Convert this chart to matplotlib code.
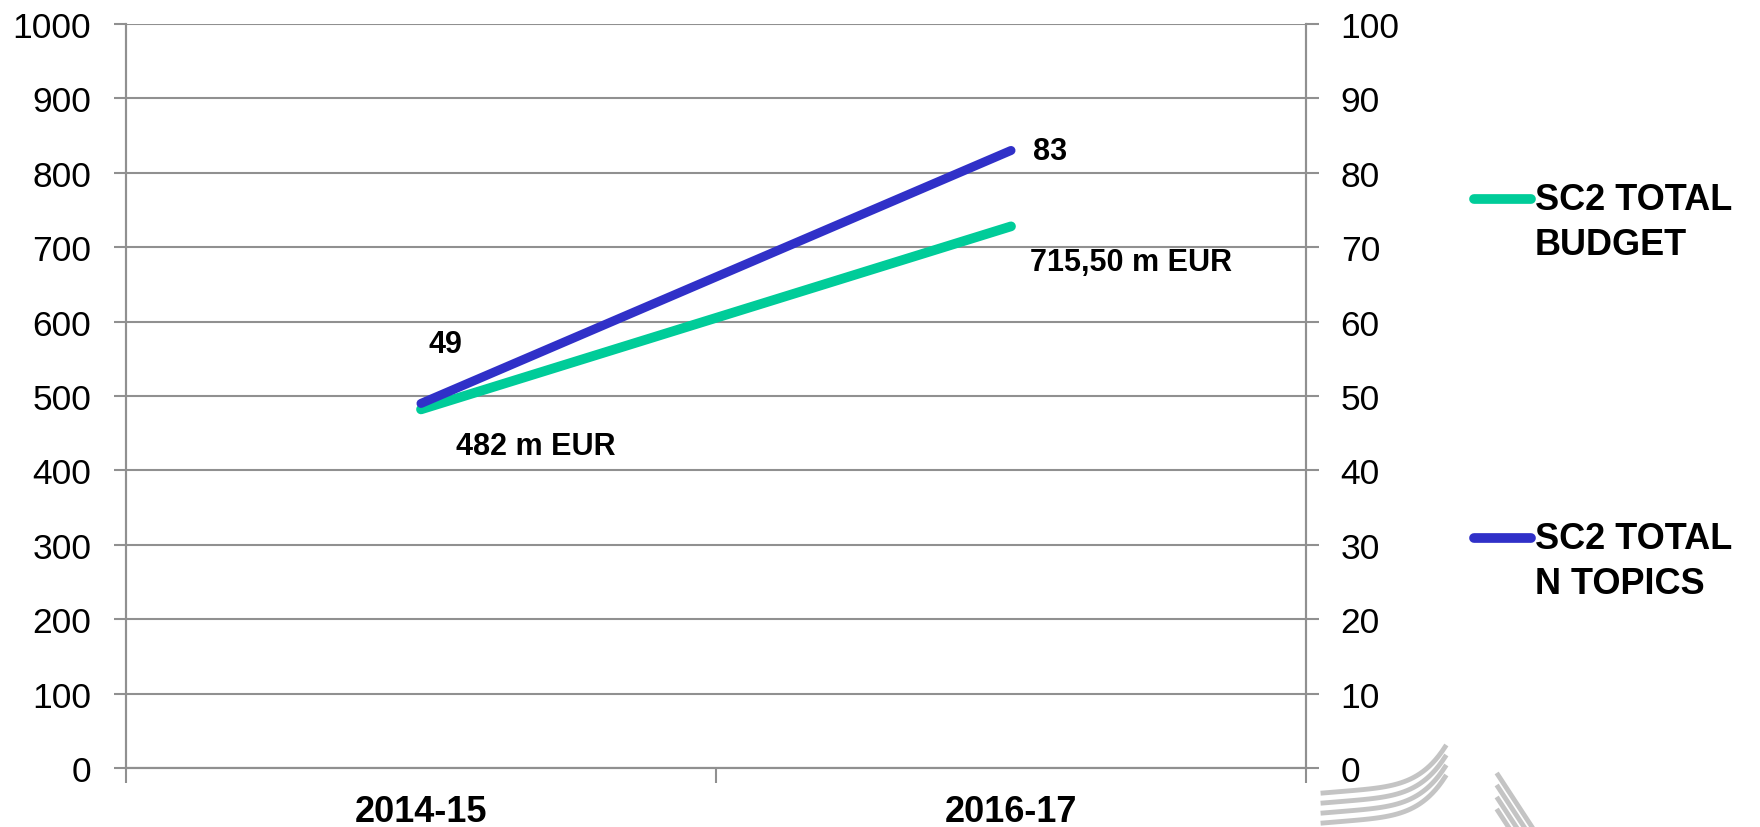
import numpy as np
import matplotlib
matplotlib.use("Agg")
import matplotlib.pyplot as plt
from matplotlib.lines import Line2D

plt.rcParams['font.family'] = ['Liberation Sans', 'DejaVu Sans']

periods = ["2014-15", "2016-17"]
budget = [482, 728]          # m EUR, as plotted
budget_labels = ["482 m EUR", "715,50 m EUR"]
topics = [49, 83]
topic_labels = ["49", "83"]

green = '#00CC99'
blue = '#3030C8'
grey = '#909090'

W, H = 1760, 828
fig = plt.figure(figsize=(W / 100, H / 100), dpi=100)
ax = fig.add_axes([126 / W, (H - 769) / H, (1306 - 126) / W, (769 - 25) / H])
ax2 = ax.twinx()

x = np.arange(len(periods))
ax.plot(x, budget, color=green, lw=7, solid_capstyle='round', zorder=3)
ax2.plot(x, topics, color=blue, lw=6.5, solid_capstyle='round', zorder=3)

ax.set_xlim(-0.5, len(periods) - 0.5)
ax.set_ylim(0, 1000)
ax2.set_ylim(0, 100)
ax.set_yticks(np.arange(0, 1001, 100))
ax2.set_yticks(np.arange(0, 101, 10))
ax.grid(axis='y', color=grey, lw=1.5)
ax.set_axisbelow(True)

# category boundaries as major ticks, labels on minor ticks
ax.set_xticks(np.arange(-0.5, len(periods), 1.0))
ax.set_xticklabels([])
ax.set_xticks(x, minor=True)
ax.set_xticklabels(periods, minor=True, fontsize=26, fontweight='bold')
ax.tick_params(axis='x', which='minor', length=0, pad=19)
ax.tick_params(axis='x', which='major', length=11, width=1.5, color=grey)
ax.tick_params(axis='y', length=9, width=1.5, color=grey, labelsize=25.5, pad=16)
ax2.tick_params(axis='y', length=9, width=1.5, color=grey, labelsize=25.5, pad=16)

for a in (ax, ax2):
    a.spines['top'].set_visible(False)
    for s in ('left', 'right', 'bottom'):
        a.spines[s].set_color(grey)
        a.spines[s].set_linewidth(1.5)

# data labels
lab = dict(fontsize=22, fontweight='bold', textcoords='offset pixels', va='center')
ax.annotate(budget_labels[0], (x[0], budget[0]), xytext=(115, -37), ha='center', **lab)
ax.annotate(budget_labels[1], (x[1], budget[1]), xytext=(19, -36), ha='left', **lab)
ax2.annotate(topic_labels[0], (x[0], topics[0]), xytext=(7, 59), ha='left', **lab)
ax2.annotate(topic_labels[1], (x[1], topics[1]), xytext=(22, -1), ha='left', **lab)

# legend, drawn by hand to keep the wide spacing
legend = [("SC2 TOTAL\nBUDGET", green, 200), ("SC2 TOTAL\nN TOPICS", blue, 539)]
for text, col, yp in legend:
    fig.add_artist(Line2D([1474 / W, 1531 / W], [1 - yp / H, 1 - yp / H],
                          color=col, lw=7, solid_capstyle='round'))
    fig.text(1535 / W, 1 - (yp - 17) / H, text, fontsize=26, fontweight='bold',
             va='top', ha='left', linespacing=1.38)

# faint logo in the corner
logo = '#C4C4C4'
t = np.linspace(0, 1, 40)
for k in range(4):
    xs = 1323 + 122 * t
    ys = 824 - k * 10 - 10 * t - 36 * t ** 5
    fig.add_artist(Line2D(xs / W, 1 - ys / H, color=logo, lw=3.5))
for k in range(4):
    xs = np.array([1498, 1532])
    ys = np.array([776 + k * 12, 828 + k * 12])
    fig.add_artist(Line2D(xs / W, 1 - ys / H, color=logo, lw=3.5))

fig.savefig('out.png', dpi=100)
